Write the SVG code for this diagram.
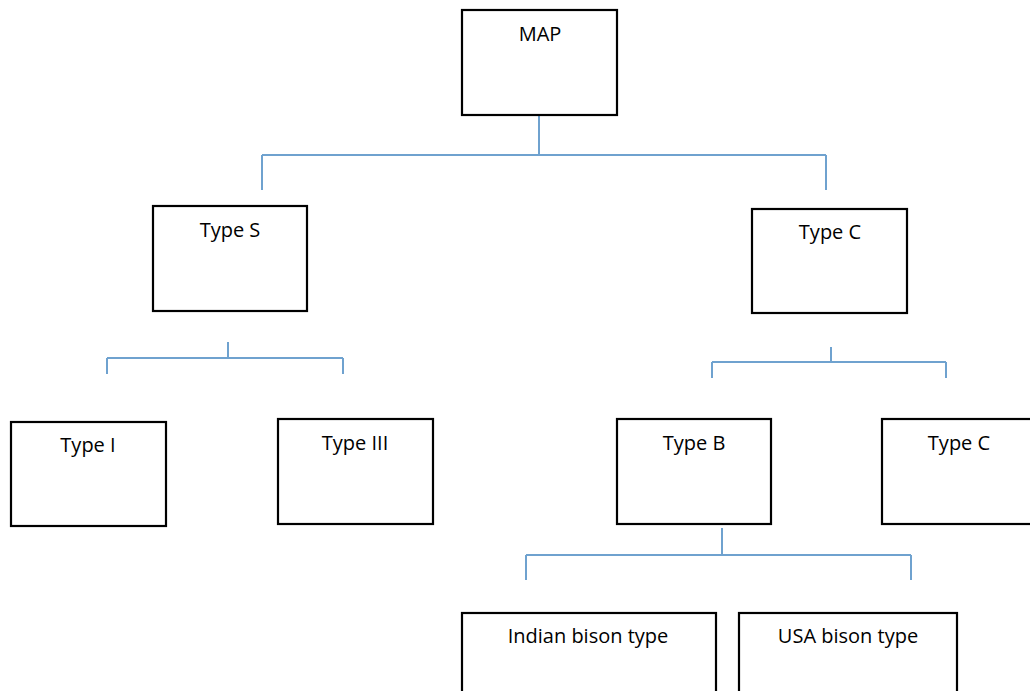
<svg xmlns="http://www.w3.org/2000/svg" width="1030" height="691" viewBox="0 0 1030 691">
<style>
.box{fill:#fff;stroke:#000;stroke-width:2.2}
.lbl{font-family:"Open Sans","Liberation Sans",sans-serif;font-size:20px;fill:#000;text-anchor:middle}
.con{fill:none;stroke:#6fa2cf;stroke-width:2}
</style>
<rect width="1030" height="691" fill="#fff"/>
<g id="connectors">
<path class="con" d="M539,116 V155 M262,155 H826 M262,155 V190 M826,155 V190"/>
<path class="con" d="M228,342 V358 M107,358 H343 M107,358 V374 M343,358 V374"/>
<path class="con" d="M831,347 V362 M712,362 H946 M712,362 V378 M946,362 V378"/>
<path class="con" d="M722,528 V555 M526,555 H911 M526,555 V580 M911,555 V580"/>
</g>
<g id="map"><rect class="box" x="462" y="10" width="155" height="105"/><text class="lbl" x="540" y="41">MAP</text></g>
<g id="typeS"><rect class="box" x="153" y="206" width="154" height="105"/><text class="lbl" x="230" y="237">Type S</text></g>
<g id="typeC1"><rect class="box" x="752" y="209" width="155" height="104"/><text class="lbl" x="830" y="239">Type C</text></g>
<g id="typeI"><rect class="box" x="11" y="422" width="155" height="104"/><text class="lbl" x="88" y="452">Type I</text></g>
<g id="typeIII"><rect class="box" x="278" y="419" width="155" height="105"/><text class="lbl" x="355" y="450">Type III</text></g>
<g id="typeB"><rect class="box" x="617" y="419" width="154" height="105"/><text class="lbl" x="694" y="450">Type B</text></g>
<g id="typeC2"><rect class="box" x="882" y="419" width="160" height="105"/><text class="lbl" x="959" y="450">Type C</text></g>
<g id="indian"><rect class="box" x="462" y="613" width="254" height="90"/><text class="lbl" x="588" y="643">Indian bison type</text></g>
<g id="usa"><rect class="box" x="739" y="613" width="218" height="90"/><text class="lbl" x="848" y="643">USA bison type</text></g>
</svg>
